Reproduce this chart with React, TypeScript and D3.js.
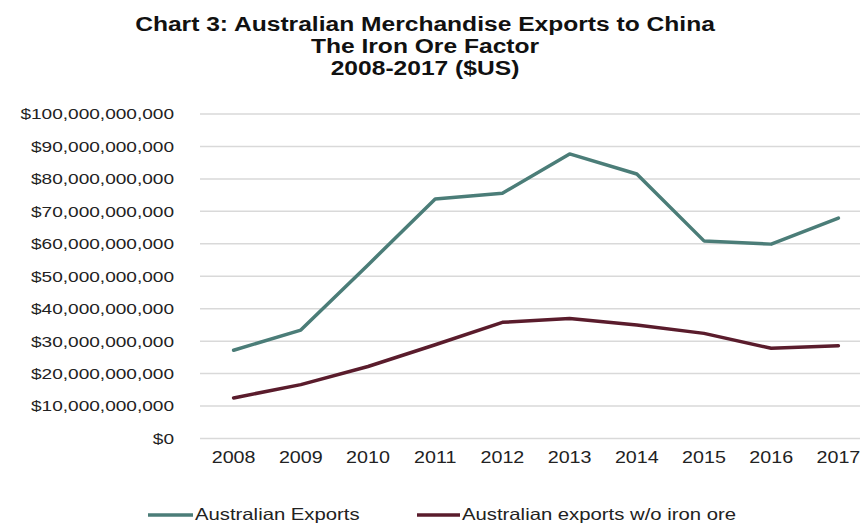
import React from "react";
import * as d3 from "d3";

const years = ["2008", "2009", "2010", "2011", "2012", "2013", "2014", "2015", "2016", "2017"];
const exportsTotal = [27.2e9, 33.4e9, 53.5e9, 73.8e9, 75.6e9, 87.7e9, 81.5e9, 60.9e9, 59.9e9, 67.9e9];
const exportsNoIron = [12.5e9, 16.6e9, 22.2e9, 28.9e9, 35.8e9, 37.0e9, 35.0e9, 32.4e9, 27.8e9, 28.6e9];
const yTicks = [0, 10e9, 20e9, 30e9, 40e9, 50e9, 60e9, 70e9, 80e9, 90e9, 100e9];
const titleLines = ["Chart 3: Australian Merchandise Exports to China", "The Iron Ore Factor", "2008-2017 ($US)"];
const seriesNames = ["Australian Exports", "Australian exports w/o iron ore"];
const seriesColors = ["#4b7d78", "#5a1c2c"];

const W = 860;
const H = 525;
const FONT = "'Liberation Sans', Arial, Helvetica, sans-serif";
const SX = 1.23;

function SText({ x, y, children, size, anchor = "start", weight = "normal", fill = "#1a1a1a", dy = "0" }: any) {
  return (
    <text
      transform={`translate(${x},${y}) scale(${SX},1)`}
      fontSize={size}
      fontFamily={FONT}
      fontWeight={weight}
      textAnchor={anchor}
      fill={fill}
      dy={dy}
    >
      {children}
    </text>
  );
}

export default function App() {
  const x = d3.scaleBand<string>().domain(years).range([200, 872]).padding(0);
  const y = d3.scaleLinear().domain([0, 100e9]).range([438.5, 114]);
  const cx = (yr: string) => (x(yr) as number) + x.bandwidth() / 2;
  const line = d3
    .line<number>()
    .x((_, i) => cx(years[i]))
    .y((d) => y(d))
    .curve(d3.curveLinear);
  const fmt = (v: number) => "$" + d3.format(",")(v);
  const series = [exportsTotal, exportsNoIron];
  const legendPos = [
    { x1: 148, x2: 193, tx: 195 },
    { x1: 417, x2: 460, tx: 462 },
  ];

  return (
    <svg width={W} height={H} style={{ position: "absolute", left: 0, top: 0, background: "#fff" }}>
      <rect x={0} y={0} width={W} height={H} fill="#fff" />
      {titleLines.map((t, i) => (
        <SText key={t} x={425} y={31 + i * 22} size={20} weight="bold" anchor="middle" fill="#111">
          {t}
        </SText>
      ))}
      {yTicks.map((t) => (
        <g key={t}>
          <line x1={200} x2={872} y1={y(t)} y2={y(t)} stroke="#d9d9d9" strokeWidth={1.5} />
          <SText x={174} y={y(t)} size={15.5} anchor="end" dy="0.35em" fill="#222">
            {fmt(t)}
          </SText>
        </g>
      ))}
      {years.map((yr) => (
        <SText key={yr} x={cx(yr)} y={463} size={16} anchor="middle" fill="#222">
          {yr}
        </SText>
      ))}
      {series.map((s, i) => (
        <path
          key={i}
          d={line(s) as string}
          fill="none"
          stroke={seriesColors[i]}
          strokeWidth={3.5}
          strokeLinejoin="round"
          strokeLinecap="round"
        />
      ))}
      {seriesNames.map((n, i) => (
        <g key={n}>
          <line x1={legendPos[i].x1} x2={legendPos[i].x2} y1={515} y2={515} stroke={seriesColors[i]} strokeWidth={3.5} />
          <SText x={legendPos[i].tx} y={520} size={16.5} fill="#222">
            {n}
          </SText>
        </g>
      ))}
    </svg>
  );
}
